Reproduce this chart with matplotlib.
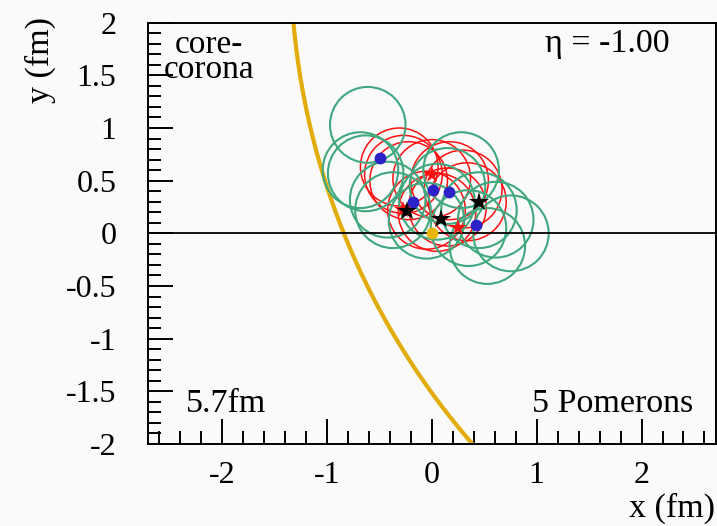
import numpy as np
import matplotlib
matplotlib.use("Agg")
import matplotlib.pyplot as plt
from matplotlib.patches import Circle
from matplotlib.ticker import MultipleLocator

plt.rcParams['font.family'] = ['Liberation Serif', 'DejaVu Serif']

# Transverse plane at eta = -1.00
eta = -1.00
n_pomerons = 5
impact = 5.7

# string-segment circles (fm)
green_x = [-0.61, -0.68, -0.63, -0.37, -0.42, 0.28, 0.15, 0.05, 0.45, 0.61, 0.755, 0.53, -0.05, 0.35]
green_y = [1.03, 0.60, 0.57, 0.22, 0.32, 0.60, 0.45, 0.30, 0.22, 0.13, 0.00, -0.12, 0.12, 0.05]
green_r = 0.36

red_x = [-0.31, -0.27, -0.22, 0.00, 0.17, 0.30, 0.34, 0.05, -0.05, 0.15]
red_y = [0.63, 0.56, 0.50, 0.52, 0.50, 0.42, 0.30, 0.20, 0.22, 0.25]
red_r = 0.37

# markers
blue_x = [-0.49, -0.18, 0.01, 0.16, 0.42]
blue_y = [0.72, 0.30, 0.41, 0.39, 0.08]
star_x = [-0.24, 0.09, 0.455]
star_y = [0.21, 0.14, 0.30]
redstar_x = [0.00, -0.27, 0.25]
redstar_y = [0.55, 0.22, 0.05]
yellow_x = [0.0]
yellow_y = [0.0]

# nucleus boundary arc
arc_cx, arc_cy, arc_R = 5.684, 2.623, 7.03

fig = plt.figure(figsize=(7.17, 5.26), dpi=100)
fig.patch.set_facecolor('#fafafa')
ax = fig.add_axes([147.5/717, 1-444/526, 568.5/717, (444-22.7)/526])
ax.set_facecolor('#fafafa')
ax.set_xlim(-2.71, 2.71)
ax.set_ylim(-2.0, 2.0)

# boundary arc
yy = np.linspace(-2.2, 2.2, 400)
xx = arc_cx - np.sqrt(arc_R**2 - (yy - arc_cy)**2)
ax.plot(xx, yy, color='#e2ac0a', lw=3.0, zorder=2)

for cx, cy in zip(red_x, red_y):
    ax.add_patch(Circle((cx, cy), red_r, fill=False, ec='#ff1010', lw=1.1, zorder=3))
for cx, cy in zip(green_x, green_y):
    ax.add_patch(Circle((cx, cy), green_r, fill=False, ec='#3fa87e', lw=1.5, zorder=4))

ax.axhline(0, color='black', lw=1.3, zorder=5)

ax.plot(redstar_x, redstar_y, '*', color='#ff1010', ms=13, mew=0, zorder=6)
ax.plot(blue_x, blue_y, 'o', color='#2b22c8', ms=8.5, mew=0, zorder=7)
ax.plot(yellow_x, yellow_y, 'o', color='#e8b40a', ms=8.5, mew=0, zorder=7)
ax.plot(star_x, star_y, '*', color='black', ms=15, mew=0, zorder=8)

# axes styling
ax.xaxis.set_major_locator(MultipleLocator(1))
ax.xaxis.set_minor_locator(MultipleLocator(0.2))
ax.yaxis.set_major_locator(MultipleLocator(0.5))
ax.yaxis.set_minor_locator(MultipleLocator(0.1))
ax.tick_params(which='both', direction='in', top=False, right=False, width=1.4)
ax.tick_params(which='major', length=18, labelsize=23)
ax.tick_params(axis='y', which='major', pad=22.5)
ax.tick_params(axis='x', which='major', pad=12)
ax.tick_params(which='minor', length=9.5)
for s in ax.spines.values():
    s.set_linewidth(1.4)

fmt = plt.FuncFormatter(lambda v, p: f"{v:g}")
ax.xaxis.set_major_formatter(fmt)
ax.yaxis.set_major_formatter(fmt)

fig.text(715/717, 1-508/526, 'x (fm)', ha='right', va='center', fontsize=24.5)
fig.text(40/717, 1-60/526, 'y (fm)', ha='center', va='center', rotation=90, fontsize=24.5)

ax.text(-2.12, 1.94, 'core-\ncorona', ha='center', va='top', fontsize=24, linespacing=0.8)
ax.text(1.67, 1.80, f'\u03b7 = {eta:.2f}', ha='center', va='center', fontsize=24.5)
ax.text(-2.34, -1.62, f'{impact:.1f}fm', ha='left', va='center', fontsize=24.5)
ax.text(2.49, -1.62, f'{n_pomerons} Pomerons', ha='right', va='center', fontsize=24.5)

fig.savefig('out.png', dpi=100, facecolor=fig.get_facecolor())
